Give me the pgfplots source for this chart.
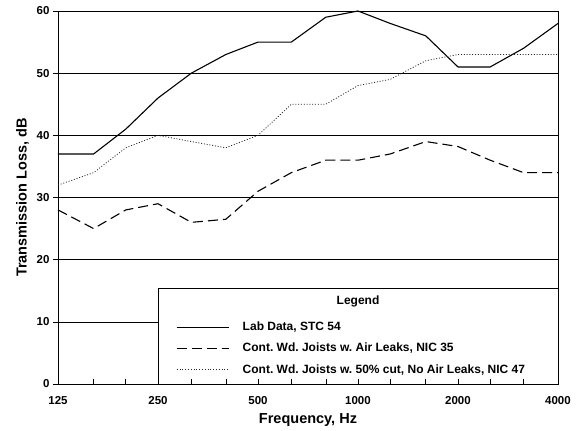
\documentclass[border=0pt]{standalone}
\usepackage{fontspec}
\setmainfont{Liberation Sans}
\usepackage{pgfplots}
\pgfplotsset{compat=1.18}
\frenchspacing
\begin{document}
\begin{tikzpicture}[font=\bfseries]
\begin{axis}[
  set layers,
  scale only axis, width=500pt, height=373pt,
  clip=false,
  xmode=log, log basis x=2,
  xmin=125, xmax=4000, ymin=0, ymax=60,
  xtick={125,160,200,250,315,400,500,630,800,1000,1250,1600,2000,2500,3150,4000},
  xticklabels={125,,,250,,,500,,,1000,,,2000,,,4000},
  ytick={0,10,20,30,40,50,60},
  xtick pos=bottom, ytick pos=left,
  tick align=outside,
  major tick length=5pt,
  xtick style={yshift=5pt, black, line width=0.6pt},
  ytick style={black, line width=0.6pt},
  /pgf/number format/assume math mode=true,
  ticklabel style={font=\fontsize{11.5}{13}\selectfont\bfseries},
  xticklabel style={yshift=-4pt},
  ymajorgrids, grid style={black, line width=0.6pt},
  axis line style={line width=0.8pt},
  xlabel={Frequency, Hz}, ylabel={Transmission Loss, dB},
  label style={font=\fontsize{14.5}{16}\selectfont\bfseries},
  xlabel style={yshift=-2pt},
  ylabel style={yshift=1pt},
  legend style={at={(rel axis cs:0.236,0.172)}, anchor=north west, draw=none, fill=none,
    inner sep=0pt, row sep=7pt, font=\fontsize{12}{14}\selectfont\bfseries},
  legend cell align=left,
  legend image code/.code={\draw[#1] (0pt,0pt) -- (52pt,0pt); \path[draw=none] (0pt,0pt) -- (64pt,0pt);},
]
\begin{pgfonlayer}{axis grid}
\draw[fill=white, line width=0.8pt] (axis cs:250,0) rectangle (axis cs:4000,15.3);
\end{pgfonlayer}
\node at (rel axis cs:0.6,0.221) {\fontsize{12}{14}\selectfont\bfseries Legend};
\addplot[black, line width=1.1pt] coordinates {
(125,37) (160,37) (200,41) (250,46) (315,50) (400,53) (500,55) (630,55)
(800,59) (1000,60) (1250,58) (1600,56) (2000,51) (2500,51) (3150,54) (4000,58)};
\addlegendentry{Lab Data, STC 54}
\addplot[black, line width=1.1pt, dash pattern=on 10pt off 5pt] coordinates {
(125,28) (160,25) (200,28) (250,29) (315,26) (400,26.5) (500,31) (630,34)
(800,36) (1000,36) (1250,37) (1600,39) (2000,38.2) (2500,36) (3150,34) (4000,34)};
\addlegendentry{Cont. Wd. Joists w. Air Leaks, NIC 35}
\addplot[black!85, line width=0.8pt, dash pattern=on 1pt off 1.8pt] coordinates {
(125,32) (160,34) (200,38) (250,40) (315,39) (400,38) (500,40) (630,45)
(800,45) (1000,48) (1250,49) (1600,52) (2000,53) (2500,53) (3150,53) (4000,53)};
\addlegendentry{Cont. Wd. Joists w. 50\% cut, No Air Leaks, NIC 47}
\path (rel axis cs:-0.116,-0.126) (rel axis cs:1.048,1.0295);
\end{axis}
\end{tikzpicture}
\end{document}
